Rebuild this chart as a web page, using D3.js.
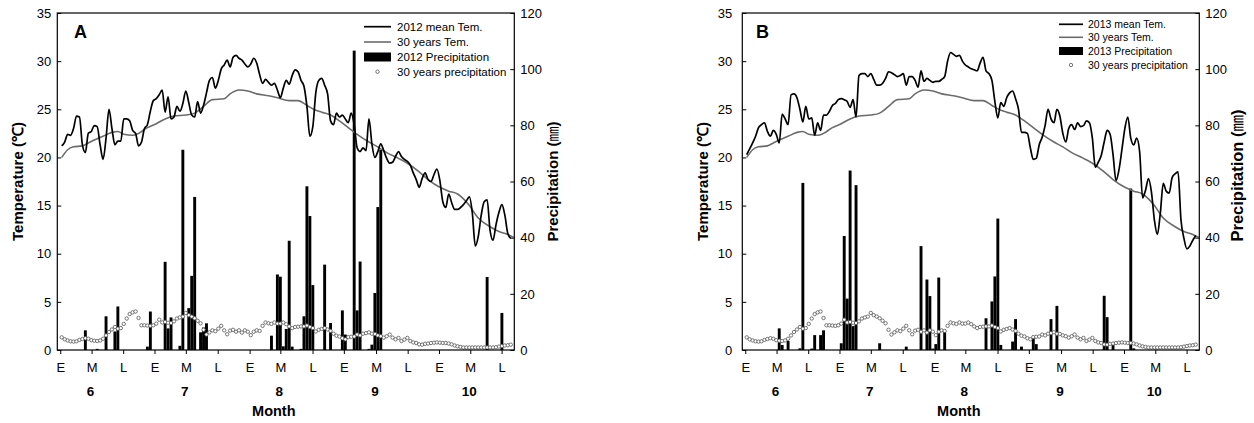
<!DOCTYPE html>
<html>
<head>
<meta charset="utf-8">
<title>Temperature and precipitation, June - October</title>
<script src="https://d3js.org/d3.v7.min.js"></script>
<style>
  body { margin: 0; background: #fff; }
  text { font-family: 'Liberation Sans', Arial, sans-serif; fill: #000; }
</style>
</head>
<body>
<script>
'use strict';
// daily mean temperature, day 0 = 1 June ... day 152 = 31 October
const temp2012 = [
  21.2, 21.6, 22.4, 22.3, 23.0, 24.3, 24.2, 21.3, 20.5, 22.5,
  22.7, 23.3, 23.2, 21.3, 19.8, 22.0, 25.0, 23.0, 21.3, 21.7,
  21.7, 24.0, 24.0, 23.8, 22.8, 22.5, 21.2, 21.6, 23.0, 23.4,
  24.8, 25.9, 26.1, 26.5, 27.0, 24.7, 26.3, 24.0, 24.2, 25.3,
  24.8, 25.6, 26.9, 25.7, 24.4, 24.2, 25.8, 24.6, 25.4, 26.7,
  28.0, 28.3, 27.2, 28.0, 29.2, 29.6, 30.1, 29.4, 30.4, 30.6,
  30.3, 30.1, 29.7, 29.4, 29.7, 30.3, 29.8, 28.6, 27.7, 28.1,
  27.8, 27.5, 27.7, 27.0, 26.2, 27.2, 28.0, 27.6, 28.5, 29.1,
  28.9, 28.0, 27.4, 25.3, 22.2, 23.2, 26.7, 28.0, 28.2, 27.5,
  26.6, 23.8, 23.4, 24.6, 24.2, 24.4, 24.0, 23.6, 24.6, 23.4,
  21.0, 20.6, 21.0, 20.7, 24.0, 21.4, 20.0, 20.6, 21.4, 20.7,
  19.9, 19.4, 19.5, 20.1, 20.6, 20.1, 19.8, 19.6, 19.2, 18.4,
  17.7, 16.9, 17.8, 18.4, 17.7, 17.5, 18.2, 18.8, 17.6, 15.4,
  14.8, 16.2, 15.3, 14.6, 14.6, 14.8, 15.1, 15.5, 15.9, 14.2,
  10.8, 11.8, 14.0, 15.4, 15.6, 12.4, 11.4, 13.0, 14.3, 15.1,
  14.0, 12.1, 11.6
];
const temp2013 = [
  20.3, 20.9, 21.5, 22.2, 23.1, 23.4, 23.6, 22.7, 22.2, 22.8,
  22.4, 21.5, 24.5, 24.0, 23.4, 26.5, 26.6, 26.2, 25.0, 23.7,
  25.3, 24.0, 24.1, 22.3, 23.6, 22.8, 24.4, 24.4, 24.8, 25.4,
  25.6, 26.0, 26.1, 26.0, 25.8, 25.2, 26.0, 24.2, 28.5, 28.7,
  28.7, 28.4, 28.7, 28.1, 27.5, 27.5, 27.7, 28.2, 28.9, 28.8,
  28.6, 28.4, 28.5, 28.7, 27.5, 28.4, 28.4, 28.0, 27.3, 29.0,
  27.9, 28.2, 28.0, 27.8, 27.9, 27.9, 28.1, 28.4, 30.0, 30.9,
  30.7, 30.5, 30.6, 30.0, 29.6, 29.4, 29.2, 29.1, 29.0, 29.8,
  30.4, 29.0, 28.7, 28.0, 25.8, 24.1, 25.7, 25.3, 26.2, 26.7,
  26.9, 26.1, 25.0, 22.6, 22.6, 22.5, 21.0, 19.8, 19.9, 21.3,
  22.1, 23.3, 25.0, 24.0, 23.6, 25.0, 24.3, 22.5, 21.6, 23.0,
  23.4, 22.9, 23.6, 23.2, 23.3, 23.8, 23.6, 22.0, 19.0, 19.5,
  20.2, 21.6, 22.8, 22.4, 20.3, 17.6, 18.7, 20.8, 23.0, 24.2,
  22.0, 21.3, 22.0, 20.6, 15.8, 16.6, 17.8, 16.4, 13.5, 12.0,
  14.2, 17.3, 16.5, 16.3, 17.9, 18.3, 18.5, 13.5, 11.6, 10.5,
  10.8, 11.4, 11.9
];

// 30 years mean temperature, read at these days
const normTempDay = [0, 2, 4, 7, 9, 11, 14, 17, 19, 21, 24, 26, 29, 32, 35, 38, 42, 45, 48, 51,
  55, 57, 60, 63, 66, 70, 73, 77, 80, 83, 86, 88, 91, 94, 97, 100, 104, 107, 110, 114,
  117, 121, 124, 128, 131, 134, 136, 138, 141, 145, 148, 151, 153];
const normTemp = [20.0, 20.8, 21.1, 21.2, 21.5, 21.8, 22.2, 22.6, 22.7, 22.4, 22.3, 22.5, 23.1, 23.5, 24.0, 24.3, 24.4, 24.6, 25.3, 26.0,
  26.1, 26.6, 27.0, 26.9, 26.6, 26.4, 26.2, 25.9, 25.9, 25.4, 24.9, 24.7, 24.4, 23.8, 23.1, 22.4, 21.6, 21.1, 20.5, 19.9,
  19.4, 18.5, 17.7, 16.9, 16.5, 16.2, 15.7, 15.0, 13.7, 12.8, 12.3, 12.0, 11.7];

// 30 years daily precipitation (mm), day 0 .. 152
const normPrec = [
  4.5, 3.8, 3.4, 3.1, 3.0, 3.1, 3.6, 3.9, 4.2, 4.0,
  3.5, 3.3, 3.2, 3.4, 4.0, 5.2, 6.4, 7.3, 8.2, 7.6,
  7.8, 9.3, 11.2, 12.8, 13.4, 13.7, 11.4, 8.8, 8.8, 8.7,
  8.6, 8.8, 9.4, 10.8, 9.8, 10.0, 9.7, 9.6, 10.2, 11.2,
  11.6, 11.9, 13.2, 12.4, 11.9, 11.3, 10.4, 9.5, 7.2, 5.5,
  6.3, 7.0, 6.7, 7.6, 8.6, 7.0, 5.6, 6.9, 7.2, 6.5,
  7.0, 6.2, 7.0, 6.5, 5.3, 6.5, 7.0, 6.8, 8.6, 9.8,
  9.5, 9.3, 9.8, 9.4, 9.4, 9.8, 9.2, 8.4, 7.8, 8.2,
  8.3, 8.4, 8.4, 8.7, 8.2, 7.8, 6.6, 7.2, 7.5, 7.8,
  7.3, 6.8, 5.8, 5.1, 4.8, 4.2, 3.8, 4.6, 4.7, 4.8,
  5.5, 5.2, 5.8, 6.0, 6.3, 5.8, 5.7, 5.2, 4.9, 4.4,
  4.9, 5.5, 4.4, 3.8, 4.3, 3.2, 3.7, 4.3, 3.2, 2.7,
  2.5, 2.0, 1.9, 2.2, 2.3, 2.5, 2.6, 2.7, 2.6, 2.5,
  2.5, 2.3, 2.0, 1.6, 1.3, 1.1, 0.9, 0.9, 0.9, 0.9,
  0.9, 0.9, 0.9, 0.9, 0.9, 0.9, 0.9, 1.0, 1.2, 1.4,
  1.6, 1.7, 1.9
];

// daily precipitation (mm), only rainy days
const rain2012Day = [8, 12, 15, 18, 19, 29, 30, 35, 36, 37, 40, 41, 43, 44, 45, 47, 48, 49,
  71, 73, 74, 75, 76, 77, 78, 81, 82, 83, 84, 85, 89, 91, 95, 96, 99, 100, 101,
  104, 105, 106, 107, 108, 144, 149];
const rain2012 = [7.0, 0.4, 12.0, 6.6, 15.5, 1.2, 13.7, 31.4, 7.7, 11.6, 1.5, 71.3, 14.9, 26.4, 54.5, 6.3, 8.0, 9.5,
  5.1, 26.9, 26.1, 1.3, 7.5, 38.9, 1.2, 0.4, 12.0, 58.3, 47.7, 23.1, 30.4, 9.6, 14.1, 5.5, 106.6, 14.1, 31.5,
  0.4, 1.9, 20.3, 50.9, 71.3, 26.0, 13.2];
const rain2013Day = [11, 12, 14, 18, 19, 22, 23, 25, 26, 32, 33, 34, 35, 36, 37, 45, 54,
  59, 61, 62, 63, 64, 65, 67, 81, 83, 84, 85, 86, 90, 91, 93, 97, 98, 103, 105,
  121, 122, 124, 130, 131];
const rain2013 = [7.7, 1.8, 3.2, 0.6, 59.5, 0.5, 5.3, 5.3, 7.0, 2.4, 40.6, 18.3, 63.9, 8.5, 58.7, 2.4, 1.2,
  37.0, 25.1, 19.2, 0.5, 2.1, 25.8, 6.5, 11.3, 17.3, 26.2, 46.8, 1.8, 3.0, 11.0, 1.2, 4.5, 2.1, 11.0, 15.7,
  19.3, 11.7, 2.1, 57.5, 0.6];

// x axis: early / mid / late ticks of each month
const tickDays = [-0.5, 10.1, 20.8, 31.4, 42.0, 52.8, 63.6, 74.0, 84.9, 95.5, 106.4, 117.1, 127.7, 138.3, 148.9];
const tickLabels = ['E', 'M', 'L', 'E', 'M', 'L', 'E', 'M', 'L', 'E', 'M', 'L', 'E', 'M', 'L'];
const monthLabels = ['6', '7', '8', '9', '10'];
const tempTicks = [0, 5, 10, 15, 20, 25, 30, 35];
const precTicks = [0, 20, 40, 60, 80, 100, 120];

const plotTop = 13;
const w = 457;
const h = 337;
const barWidth = 2.9;

const svg = d3.select('body').append('svg')
  .attr('width', 1254)
  .attr('height', 423);

svg.append('rect')
  .attr('width', '100%')
  .attr('height', '100%')
  .attr('fill', '#ffffff');

panel({
  left: 57.3, letter: 'A', temp: temp2012, rainDay: rain2012Day, rain: rain2012, leftPad: 6,
  rightTitleSize: 15,
  legend: {x0: 364, x1: 391, tx: 397, rows: [26.7, 42, 57, 71.7], size: 11.5, box: 9,
    labels: ['2012 mean Tem.', '30 years Tem.', '2012 Precipitation', '30 years precipitation']}
});
panel({
  left: 742.3, letter: 'B', temp: temp2013, rainDay: rain2013Day, rain: rain2013, leftPad: 10,
  rightTitleSize: 16.5,
  legend: {x0: 1059, x1: 1083, tx: 1088, rows: [24.3, 37.3, 51, 65], size: 10.5, box: 8,
    labels: ['2013 mean Tem.', '30 years Tem.', '2013 Precipitation', '30 years precipitation']}
});

/**
 * one panel: bars, 30 years circles, two temperature lines, axes and legend
 */
function panel(p)
{
  const g = svg.append('g').attr('transform', `translate(${p.left},${plotTop})`);

  const x = d3.scaleLinear().domain([-1.5, 153.2]).range([0, w]);
  const yT = d3.scaleLinear().domain([0, 35]).range([h, 0]);
  const yP = d3.scaleLinear().domain([0, 120]).range([h, 0]);

  // precipitation bars
  g.append('g').selectAll('rect')
    .data(p.rainDay.map((d, i) => ({day: d, v: p.rain[i]})))
    .join('rect')
    .attr('x', d => x(d.day) - barWidth / 2)
    .attr('width', barWidth)
    .attr('y', d => yP(d.v))
    .attr('height', d => h - yP(d.v))
    .attr('fill', '#000');

  // 30 years precipitation
  g.append('g').selectAll('circle')
    .data(normPrec)
    .join('circle')
    .attr('cx', (v, i) => x(i))
    .attr('cy', v => yP(v))
    .attr('r', 1.7)
    .attr('fill', '#fff')
    .attr('stroke', '#555')
    .attr('stroke-width', 0.8);

  const normLine = d3.line()
    .x((v, i) => x(normTempDay[i]))
    .y(v => yT(v))
    .curve(d3.curveMonotoneX);
  g.append('path')
    .attr('d', normLine(normTemp))
    .attr('fill', 'none')
    .attr('stroke', '#6b6b6b')
    .attr('stroke-width', 1.6);

  const tempLine = d3.line()
    .x((v, i) => x(i))
    .y(v => yT(v))
    .curve(d3.curveMonotoneX);
  g.append('path')
    .attr('d', tempLine(p.temp))
    .attr('fill', 'none')
    .attr('stroke', '#000')
    .attr('stroke-width', 1.7)
    .attr('stroke-linejoin', 'round');

  // frame
  g.append('rect')
    .attr('width', w)
    .attr('height', h)
    .attr('fill', 'none')
    .attr('stroke', '#000')
    .attr('stroke-width', 1.2);

  const axisFont = sel => {
    sel.select('.domain').remove();
    sel.attr('font-family', null).attr('font-size', null);
    sel.selectAll('line').attr('stroke', '#000');
    sel.selectAll('text').style('font-size', '13px').attr('fill', '#222');
  };

  g.append('g')
    .call(d3.axisLeft(yT).tickValues(tempTicks).tickSize(-4).tickPadding(p.leftPad))
    .call(axisFont);

  g.append('g')
    .attr('transform', `translate(${w},0)`)
    .call(d3.axisRight(yP).tickValues(precTicks).tickSize(-4).tickPadding(6))
    .call(axisFont);

  g.append('g')
    .attr('transform', `translate(0,${h})`)
    .call(d3.axisBottom(x).tickValues(tickDays).tickFormat((d, i) => tickLabels[i]).tickSize(4).tickPadding(9))
    .call(axisFont);

  g.append('g').selectAll('text')
    .data(monthLabels)
    .join('text')
    .attr('x', (d, i) => x(tickDays[i * 3 + 1]) - 1)
    .attr('y', h + 46)
    .attr('text-anchor', 'middle')
    .style('font-size', '13.5px')
    .style('font-weight', 'bold')
    .text(d => d);

  g.append('text')
    .attr('x', w / 2 - 12)
    .attr('y', h + 66)
    .attr('text-anchor', 'middle')
    .style('font-size', '14.5px')
    .style('font-weight', 'bold')
    .text('Month');

  g.append('text')
    .attr('transform', `translate(-34,${h / 2}) rotate(-90)`)
    .attr('text-anchor', 'middle')
    .style('font-size', '15px')
    .style('font-weight', 'bold')
    .text('Temperature (\u2103)');

  const rt = g.append('text')
    .attr('transform', `translate(${w + 44},${h / 2 - (p.rightTitleSize - 15) * 4}) rotate(-90)`)
    .attr('text-anchor', 'middle')
    .style('font-size', p.rightTitleSize + 'px')
    .style('font-weight', 'bold');
  rt.append('tspan').text('Precipitation (');
  rt.append('tspan').style('font-family', "'Noto Sans CJK KR', sans-serif").style('font-weight', 'normal').text('\u339C');
  rt.append('tspan').text(')');

  g.append('text')
    .attr('x', p.letter === 'A' ? 74 - p.left : 756 - p.left)
    .attr('y', 24.5)
    .style('font-size', '18px')
    .style('font-weight', 'bold')
    .text(p.letter);

  legend(p.legend);
}

/**
 * legend in the top right corner, in page coordinates
 */
function legend(l)
{
  const lg = svg.append('g');
  const r = l.rows;
  lg.append('line').attr('x1', l.x0).attr('x2', l.x1).attr('y1', r[0]).attr('y2', r[0])
    .attr('stroke', '#000').attr('stroke-width', 1.7);
  lg.append('line').attr('x1', l.x0).attr('x2', l.x1).attr('y1', r[1]).attr('y2', r[1])
    .attr('stroke', '#6b6b6b').attr('stroke-width', 1.6);
  lg.append('rect').attr('x', l.x0).attr('width', l.x1 - l.x0).attr('y', r[2] - l.box / 2).attr('height', l.box)
    .attr('fill', '#000');
  lg.append('circle').attr('cx', (l.x0 + l.x1) / 2).attr('cy', r[3]).attr('r', 1.7)
    .attr('fill', '#fff').attr('stroke', '#555').attr('stroke-width', 0.8);
  lg.selectAll('text')
    .data(l.labels)
    .join('text')
    .attr('x', l.tx)
    .attr('y', (d, i) => r[i])
    .attr('dy', '0.35em')
    .style('font-size', l.size + 'px')
    .text(d => d);
}
</script>
</body>
</html>
